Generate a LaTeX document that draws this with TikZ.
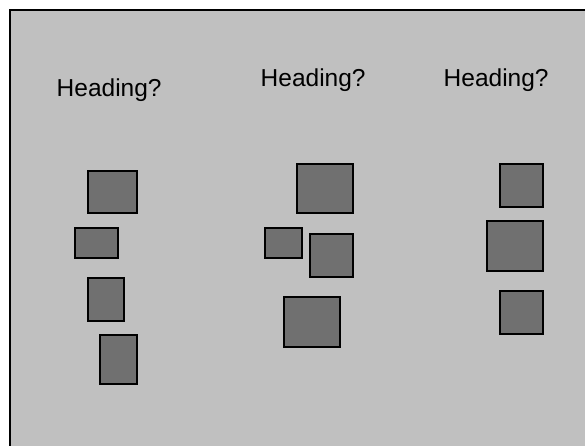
\documentclass[tikz,border=0pt]{standalone}
\usepackage{fontspec}
\setmainfont{Liberation Sans}
\definecolor{bggray}{RGB}{192,192,192}
\definecolor{boxgray}{RGB}{112,112,112}
\begin{document}
\begin{tikzpicture}[x=1pt,y=-1pt,
  blk/.style={draw=black, fill=boxgray, line width=2pt, inner sep=0pt},
  head/.style={anchor=base west, inner sep=0pt, font=\fontsize{24.5}{29}\selectfont}]
\useasboundingbox (0,0) rectangle (585,446);
\clip (0,0) rectangle (585,446);
\fill[white] (0,0) rectangle (585,446);
\draw[line width=2pt, fill=bggray] (10,10) rectangle (620,480);
\node[head] (h1) at (56.5,96.5) {Heading?};
\node[head] (h2) at (260.5,87) {Heading?};
\node[head] (h3) at (443.5,87) {Heading?};
% column 1
\node[blk, minimum width=49pt, minimum height=42pt] (b1) at (112.5,192) {};
\node[blk, minimum width=43pt, minimum height=30pt] (b2) at (96.5,243) {};
\node[blk, minimum width=36pt, minimum height=43pt] (b3) at (106,299.5) {};
\node[blk, minimum width=37pt, minimum height=49pt] (b4) at (118.5,359.5) {};
% column 2
\node[blk, minimum width=56pt, minimum height=49pt] (b5) at (325,188.5) {};
\node[blk, minimum width=37pt, minimum height=30pt] (b6) at (283.5,243) {};
\node[blk, minimum width=43pt, minimum height=43pt] (b7) at (331.5,255.5) {};
\node[blk, minimum width=56pt, minimum height=50pt] (b8) at (312,322) {};
% column 3
\node[blk, minimum width=43pt, minimum height=43pt] (b9) at (521.5,185.5) {};
\node[blk, minimum width=56pt, minimum height=50pt] (b10) at (515,246) {};
\node[blk, minimum width=43pt, minimum height=43pt] (b11) at (521.5,312.5) {};
\end{tikzpicture}
\end{document}
